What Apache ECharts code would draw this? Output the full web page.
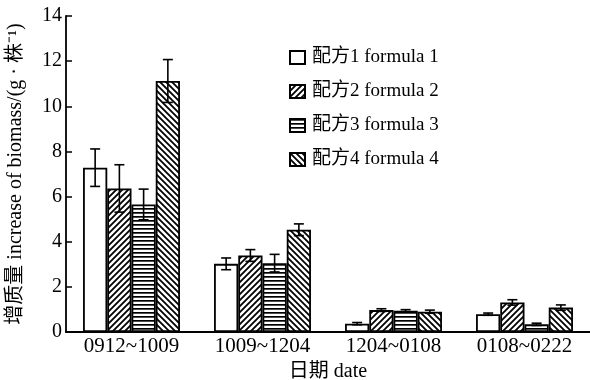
<!DOCTYPE html>
<html><head><meta charset="utf-8">
<script src="https://cdn.jsdelivr.net/npm/echarts@6/dist/echarts.min.js"></script>
<style>html,body{margin:0;padding:0;background:#fff}#c{width:590px;height:380px}</style>
</head><body><div id="c"></div>
<script>
const categories = ['0912~1009', '1009~1204', '1204~0108', '0108~0222'];
const seriesNames = ['配方1 formula 1', '配方2 formula 2', '配方3 formula 3', '配方4 formula 4'];
const f1 = [7.28, 3.02, 0.37, 0.79];
const f2 = [6.36, 3.39, 0.97, 1.31];
const f3 = [5.65, 3.05, 0.94, 0.34];
const f4 = [11.12, 4.53, 0.90, 1.08];
const e1 = [0.83, 0.26, 0.05, 0.05];
const e2 = [1.05, 0.26, 0.06, 0.12];
const e3 = [0.68, 0.39, 0.05, 0.05];
const e4 = [0.95, 0.26, 0.07, 0.12];
const yTicks = [0, 2, 4, 6, 8, 10, 12, 14];

const values = [f1, f2, f3, f4];
const errors = [e1, e2, e3, e4];
const GAP = 0.26;
const FONT = '"Liberation Serif", "Noto Sans CJK SC", serif';

function makePattern(type) {
  const c = document.createElement('canvas');
  const s = type === 'h' ? 4 : 6;
  c.width = s; c.height = s;
  const ctx = c.getContext('2d');
  ctx.fillStyle = '#fff'; ctx.fillRect(0, 0, s, s);
  if (type === 'none') return c;
  ctx.strokeStyle = '#000'; ctx.fillStyle = '#000'; ctx.lineWidth = 1.8;
  if (type === 'h') { ctx.fillRect(0, 0, s, 1.7); return c; }
  ctx.beginPath();
  if (type === '/') {
    ctx.moveTo(-1, 1); ctx.lineTo(1, -1);
    ctx.moveTo(0, s); ctx.lineTo(s, 0);
    ctx.moveTo(s - 1, s + 1); ctx.lineTo(s + 1, s - 1);
  } else {
    ctx.moveTo(0, 0); ctx.lineTo(s, s);
    ctx.moveTo(-1, s - 1); ctx.lineTo(1, s + 1);
    ctx.moveTo(s - 1, -1); ctx.lineTo(s + 1, 1);
  }
  ctx.stroke();
  return c;
}
const patterns = ['none', '/', 'h', '\\'];

const barSeries = values.map((v, i) => ({
  name: seriesNames[i],
  type: 'bar',
  data: v,
  barGap: '0%',
  barCategoryGap: (GAP * 100) + '%',
  itemStyle: {
    color: i === 0 ? '#fff' : { image: makePattern(patterns[i]), repeat: 'repeat' },
    borderColor: '#000',
    borderWidth: 1.8
  }
}));

const errSeries = values.map((v, i) => ({
  type: 'custom',
  silent: true,
  z: 5,
  data: v.map((val, k) => [k, val - errors[i][k], val + errors[i][k]]),
  renderItem: function (params, api) {
    const band = api.size([1, 0])[0];
    const w = band * (1 - GAP) / 4;
    const off = (i - 1.5) * w;
    const lo = api.coord([api.value(0), api.value(1)]);
    const hi = api.coord([api.value(0), api.value(2)]);
    const x = lo[0] + off;
    const cap = 5;
    const st = { stroke: '#000', lineWidth: 1.6 };
    return {
      type: 'group',
      children: [
        { type: 'line', shape: { x1: x, y1: lo[1], x2: x, y2: hi[1] }, style: st },
        { type: 'line', shape: { x1: x - cap, y1: lo[1], x2: x + cap, y2: lo[1] }, style: st },
        { type: 'line', shape: { x1: x - cap, y1: hi[1], x2: x + cap, y2: hi[1] }, style: st }
      ]
    };
  }
}));

const chart = echarts.init(document.getElementById('c'), null, { renderer: 'canvas' });
chart.setOption({
  animation: false,
  backgroundColor: '#fff',
  grid: { left: 66, right: 0, top: 16, bottom: 48, containLabel: false, outerBoundsMode: 'none' },
  legend: {
    data: seriesNames,
    orient: 'vertical',
    left: 284, top: 43,
    itemWidth: 15, itemHeight: 13, itemGap: 15,
    icon: 'rect',
    textStyle: { fontFamily: FONT, fontSize: 19, color: '#000', lineHeight: 14, padding: [0, 0, 0, 2] }
  },
  xAxis: {
    type: 'category',
    data: categories,
    name: '日期 date',
    nameLocation: 'middle',
    nameGap: 29,
    nameTextStyle: { fontFamily: FONT, fontSize: 20, color: '#000' },
    axisLine: { lineStyle: { color: '#000', width: 1.8 } },
    axisTick: { inside: true, length: 5, lineStyle: { color: '#000', width: 1.5 } },
    axisLabel: { fontFamily: FONT, fontSize: 21, color: '#000', margin: 4 }
  },
  yAxis: {
    type: 'value',
    min: yTicks[0], max: yTicks[yTicks.length - 1], interval: 2,
    name: '增质量 increase of biomass/(g · 株⁻¹)',
    nameLocation: 'middle',
    nameGap: 40,
    nameTextStyle: { fontFamily: FONT, fontSize: 20, color: '#000' },
    axisLine: { show: true, lineStyle: { color: '#000', width: 1.8 } },
    axisTick: { show: true, inside: true, length: 6, lineStyle: { color: '#000', width: 1.5 } },
    axisLabel: { fontFamily: FONT, fontSize: 20, color: '#000', margin: 4 },
    splitLine: { show: false }
  },
  series: barSeries.concat(errSeries)
});
</script></body></html>
